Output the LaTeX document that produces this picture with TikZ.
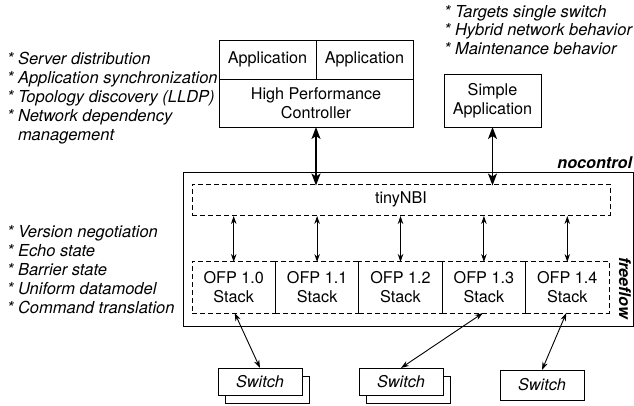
\documentclass[tikz,border=0pt]{standalone}
\usepackage{fontspec}
\setmainfont{TeX Gyre Heros}
\usetikzlibrary{arrows.meta}
\begin{document}
\begin{tikzpicture}[x=1pt,y=-1pt,
  every node/.style={font=\fontsize{16.2}{19}\selectfont, inner sep=0pt, outer sep=0pt},
  solidbox/.style={draw, line width=0.9pt, fill=white},
  dbox/.style={draw, line width=0.9pt, dash pattern=on 5pt off 3pt},
  listtext/.style={align=left, font=\fontsize{16.5}{19}\selectfont\itshape, anchor=west},
  bigarr/.style={line width=1.5pt, {Stealth[length=12pt,width=9pt,inset=3pt]}-{Stealth[length=12pt,width=9pt,inset=3pt]}},
  smallarr/.style={line width=0.9pt, {Stealth[length=8pt,width=5.5pt]}-{Stealth[length=8pt,width=5.5pt]}},
  swbox/.style={draw, line width=0.9pt, fill=white, minimum width=84pt, font=\fontsize{16.2}{19}\selectfont\itshape}
]
\useasboundingbox (0,0) rectangle (634,406);

% controller
\node[solidbox, minimum width=97pt, minimum height=39pt] (app1) at (267.5,59.5) {Application};
\node[solidbox, minimum width=97pt, minimum height=39pt] (app2) at (364.5,59.5) {Application};
\node[solidbox, minimum width=194pt, minimum height=48pt, align=center] (hpc) at (316,103) {High Performance\\Controller};

% simple app
\node[solidbox, minimum width=97pt, minimum height=53pt, align=center] (simple) at (492.5,100.5) {Simple\\Application};

% lists
\node[listtext] (l1) at (7,98.5) {* Server distribution\\* Application synchronization\\* Topology discovery (LLDP)\\* Network dependency\\\phantom{* }management};
\node[listtext] (l2) at (7,269.5) {* Version negotiation\\* Echo state\\* Barrier state\\* Uniform datamodel\\* Command translation};
\node[listtext, font=\fontsize{16.5}{18.7}\selectfont\itshape] (l3) at (444,30) {* Targets single switch\\* Hybrid network behavior\\* Maintenance behavior};

% nocontrol outer
\node[draw, line width=0.9pt, minimum width=450pt, minimum height=154pt] (outer) at (408,249) {};
\node[anchor=south east, font=\fontsize{16.2}{19}\selectfont\bfseries\itshape] (nc) at (632,169) {nocontrol};
\node[rotate=-90, font=\fontsize{16.2}{19}\selectfont\bfseries\itshape] (ff) at (625,288) {freeflow};

% tinyNBI
\node[dbox, minimum width=418pt, minimum height=31pt] (tiny) at (401,199.5) {tinyNBI};

% stacks
\foreach \i/\v in {0/1.0,1/1.1,2/1.2,3/1.3,4/1.4}{
  \node[dbox, minimum width=83.4pt, minimum height=52pt, align=center] (s\i) at ({233.7+83.4*\i},287) {OFP \v\\Stack};
}

% switches
\node[draw, line width=0.9pt, fill=white, minimum width=84pt, minimum height=27pt] (sw1b) at (267,389.5) {};
\node[swbox, minimum height=27pt] (sw1) at (260,381.5) {Switch};
\node[draw, line width=0.9pt, fill=white, minimum width=84pt, minimum height=27pt] (sw2b) at (408,389.5) {};
\node[swbox, minimum height=27pt] (sw2) at (401,381.5) {Switch};
\node[swbox, minimum height=30pt] (sw3) at (542,385) {Switch};

% arrows
\draw[bigarr] (hpc.south) -- ([yshift=-1.5pt]hpc.south |- tiny.north);
\draw[bigarr] (simple.south) -- ([yshift=-1.5pt]simple.south |- tiny.north);
\foreach \i in {0,...,4}{
  \draw[smallarr] ([yshift=-1pt]s\i.north) -- ([yshift=-1pt]s\i.north |- tiny.south);
}
\draw[smallarr] ([xshift=1pt]s0.south) -- (sw1.north);
\draw[smallarr] ([xshift=-1pt]s3.south) -- (sw2.north);
\draw[smallarr] ([xshift=-1pt]s4.south) -- (sw3.north);
\end{tikzpicture}
\end{document}
